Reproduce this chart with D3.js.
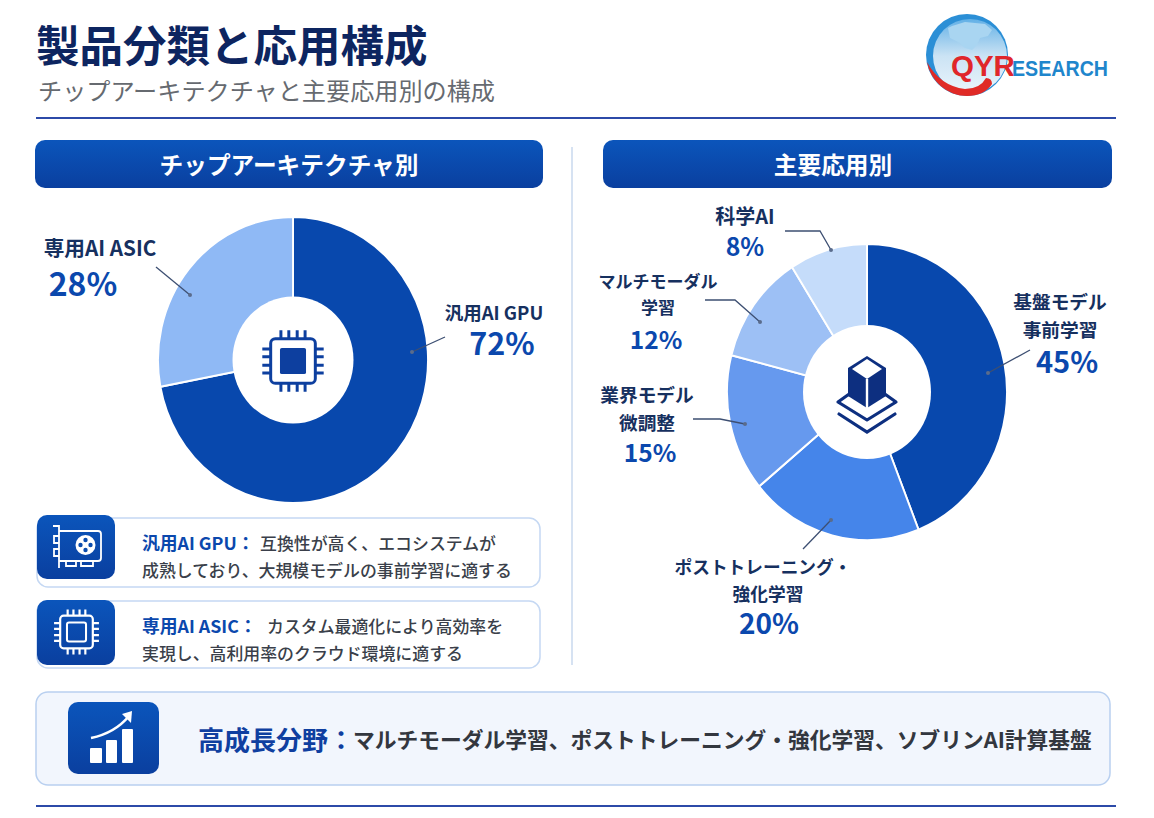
<!DOCTYPE html>
<html lang="ja">
<head>
<meta charset="utf-8">
<title>製品分類と応用構成</title>
<script src="https://cdn.jsdelivr.net/npm/d3@7"></script>
<style>
  body { margin: 0; background: #fff; }
  svg { display: block; }
  text { font-family: "Noto Sans CJK JP", "Noto Sans", sans-serif; }
</style>
</head>
<body>
<script>
// chart data
var chipCategories = [["汎用AI GPU"], ["専用AI ASIC"]];
var chipValues = [72, 28];
var appCategories = [["基盤モデル", "事前学習"], ["ポストトレーニング・", "強化学習"],
                     ["業界モデル", "微調整"], ["マルチモーダル", "学習"], ["科学AI"]];
var appValues = [45, 20, 15, 12, 8];
// the slices in the picture are not quite the printed numbers, these are read off the arcs
var appDrawnShares = [44, 20, 15, 12, 9];

// texts
var titleText = "製品分類と応用構成";
var subtitleText = "チップアーキテクチャと主要応用別の構成";
var headers = ["チップアーキテクチャ別", "主要応用別"];
var growthHead = "高成長分野：";
var growthBody = "マルチモーダル学習、ポストトレーニング・強化学習、ソブリンAI計算基盤";

// colours
var chipColors = ["#0848ad", "#8fb9f5"];
var appColors = ["#0848ad", "#4585ea", "#6699ee", "#9dc0f5", "#c5dcfa"];
var navy = "#0d2560", blue = "#0b48ad", dark = "#16305f", grey = "#3a3f4a";

var w = 1154, h = 818;

var svg = d3.select("body").append("svg").attr("width", w).attr("height", h);
var defs = svg.append("defs");

var grad = defs.append("linearGradient").attr("id", "barGrad")
  .attr("x1", 0).attr("y1", 0).attr("x2", 0).attr("y2", 1);
grad.append("stop").attr("offset", 0).attr("stop-color", "#0b55bb");
grad.append("stop").attr("offset", 1).attr("stop-color", "#0a3f9f");

var globeGrad = defs.append("linearGradient").attr("id", "globeGrad")
  .attr("x1", 0).attr("y1", 0).attr("x2", 0).attr("y2", 1);
globeGrad.append("stop").attr("offset", 0).attr("stop-color", "#62b0e6");
globeGrad.append("stop").attr("offset", 0.5).attr("stop-color", "#cbe3f4");
globeGrad.append("stop").attr("offset", 1).attr("stop-color", "#eaf4fb");

// header
svg.append("text").attr("x", 36).attr("y", 62).attr("font-size", 43.5)
   .attr("font-weight", 700).attr("fill", navy).text(titleText);
svg.append("text").attr("x", 38).attr("y", 100).attr("font-size", 24.15)
   .attr("fill", "#666a70").text(subtitleText);
rule(118);
rule(806);

function rule(y) {
  svg.append("line").attr("x1", 36).attr("x2", 1116).attr("y1", y).attr("y2", y)
     .attr("stroke", "#2c4aa8").attr("stroke-width", 2);
}

drawLogo();

// section bars, the second title is not centred in the source
[[35, 508, 289], [603, 509, 833]].forEach(function(b, i) {
  svg.append("rect").attr("x", b[0]).attr("y", 140).attr("width", b[1]).attr("height", 48)
     .attr("rx", 10).attr("fill", "url(#barGrad)");
  svg.append("text").attr("x", b[2]).attr("y", 164).attr("text-anchor", "middle")
     .attr("dominant-baseline", "central").attr("font-size", 23.7).attr("font-weight", 700)
     .attr("fill", "#fff").text(headers[i]);
});
svg.append("line").attr("x1", 572).attr("x2", 572).attr("y1", 147).attr("y2", 665)
   .attr("stroke", "#c9d8ee").attr("stroke-width", 1.5);

// donuts, the source picture is slightly narrower than tall
function donut(values, colors, cx, cy, rx, ry, holeX, holeY) {
  var pie = d3.pie().sort(null)(values);
  var arc = d3.arc().innerRadius(0).outerRadius(ry);
  var g = svg.append("g").attr("transform", "translate(" + cx + "," + cy + ") scale(" + (rx / ry) + ",1)");
  g.selectAll("path")
   .data(pie)
   .enter()
   .append("path")
   .attr("d", arc)
   .attr("fill", function(d, i) { return colors[i]; })
   .attr("stroke", "#fff")
   .attr("stroke-width", 2);
  svg.append("ellipse").attr("cx", cx).attr("cy", cy).attr("rx", holeX).attr("ry", holeY).attr("fill", "#fff");
}
donut(chipValues, chipColors, 293, 360, 135, 143, 60.5, 63.5);
donut(appDrawnShares, appColors, 867, 392, 140, 148, 64, 67);

// label places, same order as the data
var chipLabels = [
  {x: 494, y: 312, lineGap: 0, size: 18.5, vx: 502, vy: 342, vsize: 30.5, leader: [[445, 337], [412, 352]]},
  {x: 100, y: 247, lineGap: 0, size: 20.7, vx: 83, vy: 282, vsize: 32, leader: [[156, 267], [190, 295]]}
];
var appLabels = [
  {x: 1060, y: 300, lineGap: 28, size: 18.7, vx: 1067, vy: 360, vsize: 29, leader: [[1030, 350], [988, 373]]},
  {x: 763, y: 566, lineGap: 27, size: 17.7, lineDx: [0, 5], vx: 769, vy: 622, vsize: 28, leader: [[803, 549], [831, 520]]},
  {x: 647, y: 393, lineGap: 28, size: 18.7, vx: 650, vy: 451, vsize: 24.5, leader: [[693, 419], [720, 419], [745, 424]]},
  {x: 658, y: 280, lineGap: 26, size: 17, vx: 656, vy: 338, vsize: 24.5, leader: [[705, 300], [735, 300], [760, 322]]},
  {x: 745, y: 215, lineGap: 0, size: 20, vx: 745, vy: 245, vsize: 24.8, leader: [[785, 231], [820, 231], [831, 250]]}
];

function labels(places, cats, values) {
  var line = d3.line();
  places.forEach(function(p, i) {
    svg.append("path").attr("d", line(p.leader)).attr("fill", "none")
       .attr("stroke", "#3d4f72").attr("stroke-width", 1.3);
    var end = p.leader[p.leader.length - 1];
    svg.append("circle").attr("cx", end[0]).attr("cy", end[1]).attr("r", 2).attr("fill", "#5a6c8c");
    cats[i].forEach(function(t, j) {
      svg.append("text").attr("x", p.x + (p.lineDx ? p.lineDx[j] : 0)).attr("y", p.y + j * p.lineGap)
         .attr("text-anchor", "middle").attr("dominant-baseline", "central")
         .attr("font-size", p.size).attr("font-weight", 700).attr("fill", dark).text(t);
    });
    svg.append("text").attr("x", p.vx).attr("y", p.vy).attr("text-anchor", "middle")
       .attr("dominant-baseline", "central").attr("font-size", p.vsize).attr("font-weight", 700)
       .attr("fill", blue).text(values[i] + "%");
  });
}
labels(chipLabels, chipCategories, chipValues);
labels(appLabels, appCategories, appValues);

// chip icon, used in the donut and in the second card
function chip(cx, cy, k, color, filled) {
  var g = svg.append("g").attr("transform", "translate(" + cx + "," + cy + ") scale(" + k + ")")
             .attr("fill", "none").attr("stroke", color);
  g.append("rect").attr("x", -24).attr("y", -24).attr("width", 48).attr("height", 48)
   .attr("rx", 5).attr("stroke-width", 3.2);
  if (filled) {
    g.append("rect").attr("x", -14).attr("y", -14).attr("width", 28).attr("height", 28)
     .attr("rx", 2).attr("fill", color).attr("stroke", "none");
  } else {
    g.append("rect").attr("x", -14).attr("y", -14).attr("width", 28).attr("height", 28)
     .attr("rx", 3).attr("stroke-width", 3);
  }
  [-13, -4.5, 4.5, 13].forEach(function(o) {
    g.append("path").attr("stroke-width", 3.2)
     .attr("d", "M" + o + ",-33V-24M" + o + ",24V33M-33," + o + "H-24M24," + o + "H33");
  });
}
chip(293, 361, 0.93, "#0d3f9f", true);

// layers icon in the second donut
var layers = svg.append("g").attr("transform", "translate(867,399)");
layers.append("path").attr("d", "M0,-43L19,-31V-3L0,9L-19,-3V-31Z").attr("fill", "#0d2f80");
layers.append("path").attr("d", "M0,-40L15,-30L0,-20L-15,-30Z").attr("fill", "#fff");
layers.append("path").attr("d", "M0,-20V9").attr("stroke", "#fff").attr("stroke-width", 2.4);
layers.append("path").attr("d", "M-15,-7L-29,3L0,21L29,3L15,-7").attr("fill", "none")
      .attr("stroke", "#0d2f80").attr("stroke-width", 3.2).attr("stroke-linejoin", "round");
layers.append("path").attr("d", "M-28,15L0,33L28,15").attr("fill", "none")
      .attr("stroke", "#0d2f80").attr("stroke-width", 3.2).attr("stroke-linecap", "round");

// description cards
function card(y, ch, iy, ih, head, l1x, l1, l2) {
  svg.append("rect").attr("x", 37).attr("y", y).attr("width", 503).attr("height", ch)
     .attr("rx", 11).attr("fill", "#fff").attr("stroke", "#c5d8f3").attr("stroke-width", 1.5);
  svg.append("rect").attr("x", 37).attr("y", iy).attr("width", 78).attr("height", ih)
     .attr("rx", 10).attr("fill", "url(#barGrad)");
  svg.append("text").attr("x", 142).attr("y", y + 24).attr("dominant-baseline", "central")
     .attr("font-size", 17.8).attr("font-weight", 700).attr("fill", blue).text(head);
  svg.append("text").attr("x", l1x).attr("y", y + 24).attr("dominant-baseline", "central")
     .attr("font-size", 16.9).attr("font-weight", 500).attr("fill", grey).text(l1);
  svg.append("text").attr("x", 142).attr("y", y + 51).attr("dominant-baseline", "central")
     .attr("font-size", 16.9).attr("font-weight", 500).attr("fill", grey).text(l2);
}
card(518, 69, 515, 64, "汎用AI GPU：", 260, "互換性が高く、エコシステムが", "成熟しており、大規模モデルの事前学習に適する");
card(601, 67, 600, 65, "専用AI ASIC：", 267, "カスタム最適化により高効率を", "実現し、高利用率のクラウド環境に適する");
chip(76.5, 632, 0.68, "#fff", false);

// gpu card icon
var gpu = svg.append("g").attr("fill", "none").attr("stroke", "#fff").attr("stroke-width", 1.8);
gpu.append("path").attr("d", "M53,526H59V568M59,531H98Q101,531 101,534V558Q101,561 98,561H59");
gpu.append("path").attr("d", "M59,536H54V543H59M59,549H54V556H59");
gpu.append("path").attr("d", "M66,561V566H76V561M81,561V566H93V561");
gpu.append("circle").attr("cx", 85.5).attr("cy", 545).attr("r", 10).attr("fill", "#fff").attr("stroke", "none");
[[85.5, 540], [85.5, 550], [80.5, 545], [90.5, 545]].forEach(function(p) {
  gpu.append("circle").attr("cx", p[0]).attr("cy", p[1]).attr("r", 2.2).attr("fill", "#0a4cae").attr("stroke", "none");
});

// bottom box
svg.append("rect").attr("x", 36).attr("y", 692).attr("width", 1074).attr("height", 93)
   .attr("rx", 12).attr("fill", "#f2f6fd").attr("stroke", "#b9d0f0").attr("stroke-width", 1.5);
svg.append("rect").attr("x", 68).attr("y", 702).attr("width", 91).attr("height", 72)
   .attr("rx", 10).attr("fill", "url(#barGrad)");
[[90, 748, 12, 15], [106, 740, 11, 23], [122, 729, 11, 34]].forEach(function(b) {
  svg.append("rect").attr("x", b[0]).attr("y", b[1]).attr("width", b[2]).attr("height", b[3])
     .attr("rx", 1).attr("fill", "#fff");
});
svg.append("path").attr("d", "M91,738Q115,733 129,716").attr("fill", "none")
   .attr("stroke", "#fff").attr("stroke-width", 2.6);
svg.append("path").attr("d", "M122,714L132,711L131,723Z").attr("fill", "#fff");
svg.append("text").attr("x", 198).attr("y", 738).attr("dominant-baseline", "central")
   .attr("font-size", 26).attr("font-weight", 700).attr("fill", "#0f3fa0").text(growthHead);
svg.append("text").attr("x", 353).attr("y", 738).attr("dominant-baseline", "central")
   .attr("font-size", 21.75).attr("font-weight", 700).attr("fill", "#33373f").text(growthBody);

function drawLogo() {
  var g = svg.append("g");
  g.append("circle").attr("cx", 967).attr("cy", 55).attr("r", 41).attr("fill", "#2b8fd6");
  g.append("circle").attr("cx", 970).attr("cy", 56).attr("r", 37).attr("fill", "url(#globeGrad)");
  g.append("path").attr("d", "M948,28L952,26L965,22L985,24L992,30L988,36L980,38L977,45L972,50L965,48L958,42L950,38Z")
   .attr("fill", "#a9d5f1");
  g.append("path").attr("d", "M927,62A41,41 0 0 0 967,96Q984,96 992,84Q992,78 986,78Q980,89 965,89Q940,86 927,62Z")
   .attr("fill", "#e02a26");
  g.append("text").attr("x", 951).attr("y", 76).attr("font-size", 29.5).attr("font-weight", 700)
   .attr("fill", "#e0262a").style("font-family", "Liberation Sans").text("QYR");
  g.append("text").attr("x", 1012).attr("y", 76).attr("font-size", 21.5).attr("font-weight", 700)
   .attr("textLength", 96).attr("lengthAdjust", "spacingAndGlyphs")
   .attr("fill", "#1f86cc").style("font-family", "Liberation Sans").text("ESEARCH");
}
</script>
</body>
</html>
